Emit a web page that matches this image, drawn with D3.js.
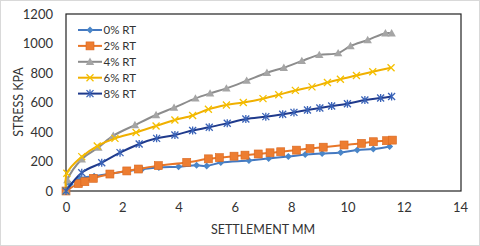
<!DOCTYPE html>
<html><head><meta charset="utf-8">
<script src="https://cdn.jsdelivr.net/npm/d3@7"></script>
<style>html,body{margin:0;padding:0;background:#fff;}svg{display:block;font-family:Lato,"Open Sans",sans-serif;}</style>
</head><body>
<script>
const seriesNames = ["0% RT","2% RT","4% RT","6% RT","8% RT"];
const xTicks = [0,2,4,6,8,10,12,14];
const yTicks = [0,200,400,600,800,1000,1200];
const rt0 = [[0,0],[0.15,45],[0.5,85],[1.0,100],[1.6,118],[2.2,135],[2.7,148],[3.3,160],[4.0,165],[4.64,174],[5.0,170],[5.5,193],[6.5,207],[7.2,221],[7.9,234],[8.5,247],[9.1,254],[9.76,261],[10.35,278],[10.92,284],[11.5,302]];
const rt2 = [[0,0],[0.44,50],[0.67,63],[0.97,86],[1.56,115],[2.16,136],[2.57,149],[3.28,172],[4.29,194],[5.06,218],[5.45,226],[5.97,236],[6.36,243],[6.83,251],[7.25,259],[7.63,266],[8.19,277],[8.67,288],[9.14,297],[9.88,312],[10.5,323],[10.92,334],[11.39,341],[11.6,345]];
const rt4 = [[0,0],[0.05,75],[0.56,215],[1.15,295],[1.68,375],[2.45,447],[3.2,515],[3.84,565],[4.6,628],[5.12,662],[5.7,696],[6.42,748],[7.14,802],[7.74,836],[8.38,882],[9.0,923],[9.67,935],[10.11,983],[10.72,1024],[11.35,1070],[11.57,1070]];
const rt6 = [[0,0],[0.03,120],[0.56,233],[1.11,305],[1.74,357],[2.49,397],[3.2,441],[3.87,481],[4.5,512],[5.06,554],[5.7,583],[6.3,600],[7.0,626],[7.56,653],[8.15,682],[8.74,706],[9.29,736],[9.75,758],[10.32,783],[10.9,809],[11.55,836]];
const rt8 = [[0,0],[0.56,124],[1.27,192],[1.92,260],[2.6,319],[3.22,357],[3.87,380],[4.5,410],[5.09,432],[5.73,459],[6.39,488],[7.1,504],[7.7,520],[8.1,533],[8.58,549],[9.02,563],[9.44,576],[10.0,592],[10.62,617],[11.18,630],[11.57,641]];
const allData = [rt0,rt2,rt4,rt6,rt8];
const lineColors = ["#4478C0","#E87628","#8C8C8C","#F0B000","#1F3A8C"];
const markerColors = ["#4A86C8","#ED7D31","#A5A5A5","#F5C000","#3A63B8"];
const markerTypes = ["diamond","square","triangle","x","asterisk"];

const W=480,H=246;
const svg=d3.select("body").append("svg").attr("width",W).attr("height",H);
svg.append("rect").attr("x",0.5).attr("y",0.5).attr("width",W-1).attr("height",H-1).attr("fill","#fff").attr("stroke","#d9d9d9");
const L=66,R=460,T=14,B=191;
const x=d3.scaleLinear().domain([0,14]).range([L,R]);
const y=d3.scaleLinear().domain([0,1200]).range([B,T]);

svg.append("rect").attr("x",L).attr("y",T).attr("width",R-L+1).attr("height",B-T).attr("fill","none").attr("stroke","#222").attr("stroke-width",1.2);

const xa=svg.append("g").attr("transform",`translate(0,${B})`).call(d3.axisBottom(x).tickValues(xTicks).tickFormat(d3.format("d")).tickSize(0).tickPadding(12));
xa.select(".domain").remove();
xa.selectAll("text").attr("font-size","13px").attr("fill","#333").attr("font-family","Lato");
const ya=svg.append("g").attr("transform",`translate(${L},0)`).call(d3.axisLeft(y).tickValues(yTicks).tickFormat(d3.format("d")).tickSize(0).tickPadding(13));
ya.select(".domain").remove();
ya.selectAll("text").attr("font-size","13px").attr("fill","#333").attr("font-family","Lato");

svg.append("text").attr("x",263).attr("y",234).attr("text-anchor","middle").attr("font-size","12.5px").attr("fill","#333").text("SETTLEMENT MM");
svg.append("text").attr("transform","translate(23,102) rotate(-90)").attr("text-anchor","middle").attr("font-size","12.5px").attr("fill","#333").text("STRESS KPA");

function marker(g,type,cx,cy,color){
  if(type==="diamond"){g.append("path").attr("d",`M${cx},${cy-3.5}L${cx+3.5},${cy}L${cx},${cy+3.5}L${cx-3.5},${cy}Z`).attr("fill",color);}
  else if(type==="square"){g.append("rect").attr("x",cx-4).attr("y",cy-4).attr("width",8).attr("height",8).attr("fill",color).attr("stroke","#d9661e").attr("stroke-width",0.6);}
  else if(type==="triangle"){g.append("path").attr("d",`M${cx},${cy-4.2}L${cx+4.2},${cy+3.2}L${cx-4.2},${cy+3.2}Z`).attr("fill",color);}
  else if(type==="x"){g.append("path").attr("d",`M${cx-3.5},${cy-3.5}L${cx+3.5},${cy+3.5}M${cx-3.5},${cy+3.5}L${cx+3.5},${cy-3.5}`).attr("stroke",color).attr("stroke-width",1.3);}
  else if(type==="asterisk"){g.append("path").attr("d",`M${cx-3.5},${cy-3.5}L${cx+3.5},${cy+3.5}M${cx-3.5},${cy+3.5}L${cx+3.5},${cy-3.5}M${cx},${cy-4}L${cx},${cy+4}`).attr("stroke",color).attr("stroke-width",1.3);}
}

const line=d3.line().x(d=>x(d[0])).y(d=>y(d[1])).curve(d3.curveCatmullRom.alpha(0.5));
allData.forEach((data,i)=>{
  const g=svg.append("g");
  g.append("path").datum(data).attr("d",line).attr("fill","none").attr("stroke",lineColors[i]).attr("stroke-width",2);
  data.forEach(d=>marker(g,markerTypes[i],x(d[0]),y(d[1]),markerColors[i]));
});

const lg=svg.append("g");
seriesNames.forEach((n,i)=>{
  const yy=30+i*15.9;
  lg.append("line").attr("x1",78).attr("x2",102).attr("y1",yy).attr("y2",yy).attr("stroke",lineColors[i]).attr("stroke-width",2);
  marker(lg,markerTypes[i],90,yy,markerColors[i]);
  lg.append("text").attr("x",103.5).attr("y",yy+4).attr("font-size","11.5px").attr("fill","#333").text(n);
});
</script>
</body></html>
